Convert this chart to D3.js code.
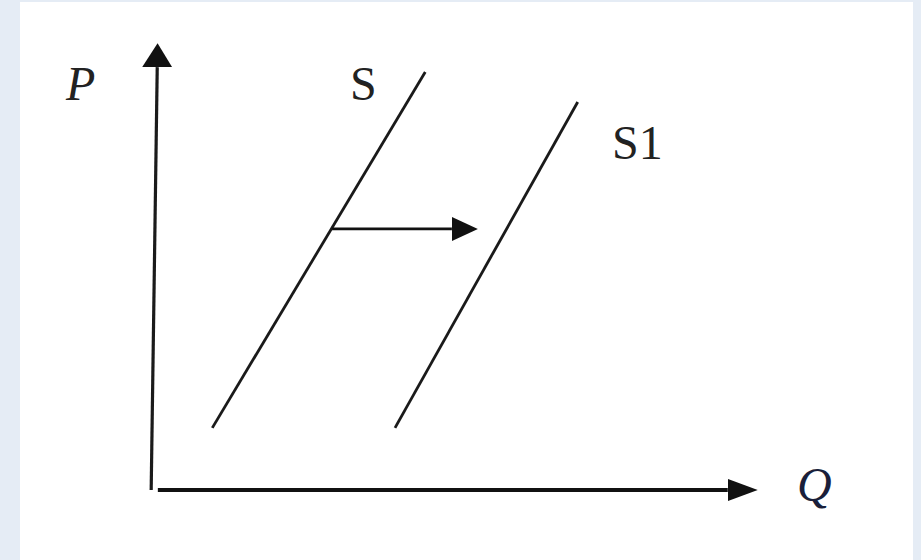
<!DOCTYPE html>
<html><head><meta charset="utf-8">
<script src="https://cdn.jsdelivr.net/npm/d3@7"></script>
<style>body{margin:0;background:#e5ecf5;}svg{display:block;}
text{font-family:"Liberation Serif","Times New Roman",Times,serif;}</style>
</head><body>
<script>
// Data (quantity, price) in abstract units 0..100
const supplyS  = [[9.8, 13.9], [45.0, 93.5]];
const supplyS1 = [[40.0, 13.9], [70.2, 86.8]];
const shiftArrow = [[29.6, 58.4], [53.7, 58.4]];
const curveLabels = ["S", "S1"];
const axisLabels = ["P", "Q"];

const W = 921, H = 560;
const x = d3.scaleLinear().domain([0, 100]).range([153, 758]);
const y = d3.scaleLinear().domain([0, 100]).range([490, 43]);

const svg = d3.select("body").append("svg").attr("width", W).attr("height", H);
svg.append("rect").attr("width", W).attr("height", H).attr("fill", "#e5ecf5");
svg.append("rect").attr("x", 20).attr("y", 2).attr("width", 893).attr("height", H).attr("fill", "#ffffff");

const defs = svg.append("defs");
function marker(id, len, half) {
  defs.append("marker").attr("id", id)
    .attr("markerUnits", "userSpaceOnUse")
    .attr("viewBox", `0 ${-half} ${len} ${2*half}`)
    .attr("refX", 0).attr("refY", 0)
    .attr("markerWidth", len).attr("markerHeight", 2*half)
    .attr("orient", "auto")
    .append("path").attr("d", `M0,${-half}L${len},0L0,${half}Z`).attr("fill", "#111");
}
marker("ah-v", 24, 15);
marker("ah-h", 30, 11);
marker("ah-s", 26, 12);

const line = d3.line().x(d => x(d[0])).y(d => y(d[1]));

// Axes (P vertical, Q horizontal)
svg.append("path")
  .attr("d", line([[-0.3, 0], [0.7, 94.6]]))
  .attr("stroke", "#1a1a1a").attr("stroke-width", 3.2).attr("fill", "none")
  .attr("marker-end", "url(#ah-v)");
svg.append("path")
  .attr("d", line([[0.8, 0], [95.0, 0]]))
  .attr("stroke", "#111").attr("stroke-width", 3.8).attr("fill", "none")
  .attr("marker-end", "url(#ah-h)");

// Supply curves
[supplyS, supplyS1].forEach(s => {
  svg.append("path").attr("d", line(s))
    .attr("stroke", "#1a1a1a").attr("stroke-width", 2.8).attr("fill", "none");
});

// Shift arrow
svg.append("path")
  .attr("d", line([shiftArrow[0], [shiftArrow[1][0] - 26/6.05, shiftArrow[1][1]]]))
  .attr("stroke", "#111").attr("stroke-width", 2.8).attr("fill", "none")
  .attr("marker-end", "url(#ah-s)");

// Labels
svg.append("text").attr("x", 66).attr("y", 100).text(axisLabels[0])
  .attr("font-style", "italic").attr("font-size", 48).attr("fill", "#222");
svg.append("text").attr("x", 797).attr("y", 501).text(axisLabels[1])
  .attr("font-style", "italic").attr("font-size", 48).attr("fill", "#1a1f3a");
svg.append("text").attr("x", 350).attr("y", 100).text(curveLabels[0])
  .attr("font-size", 48).attr("fill", "#222");
svg.append("text").attr("x", 612).attr("y", 159).text(curveLabels[1])
  .attr("font-size", 48).attr("fill", "#222");
</script>
</body></html>
